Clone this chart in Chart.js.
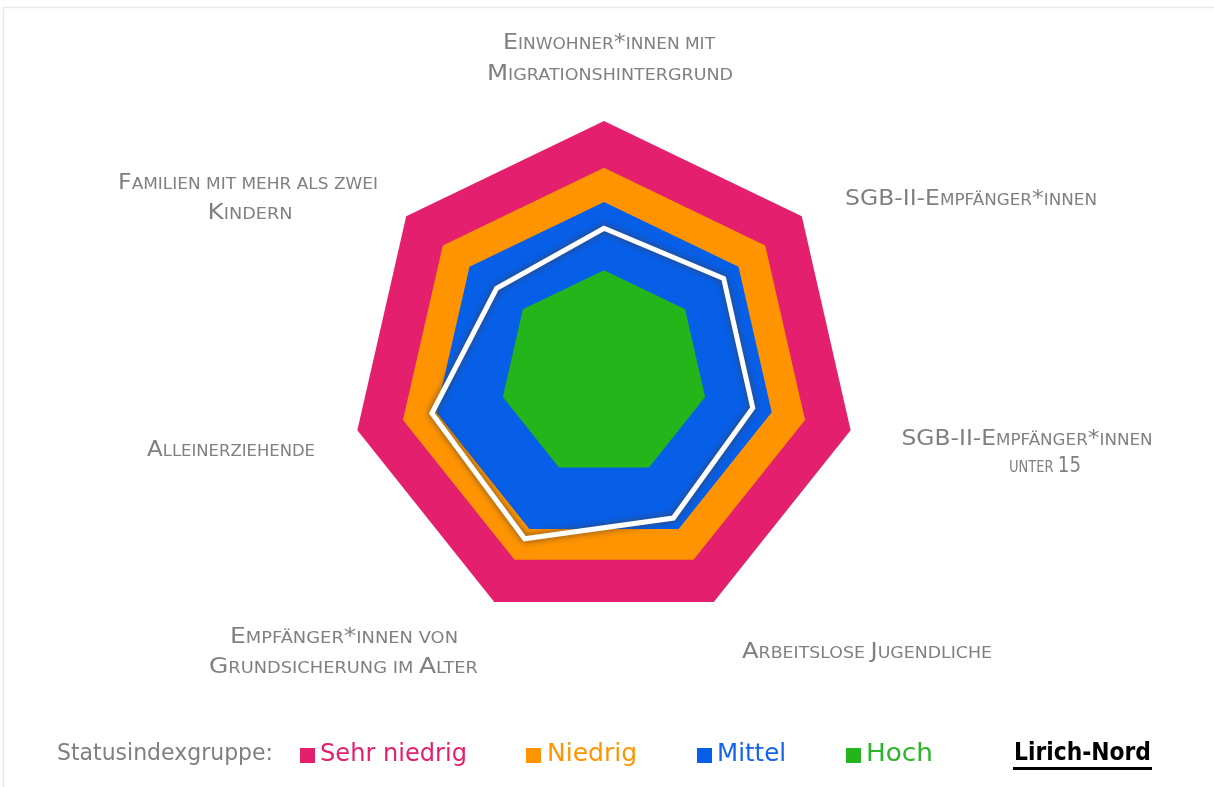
<!DOCTYPE html>
<html>
<head>
<meta charset="utf-8">
<script src="https://cdn.jsdelivr.net/npm/chart.js@4/dist/chart.umd.min.js"></script>
<style>
  html, body { margin: 0; padding: 0; background: #ffffff; }
  #wrap { width: 1214px; height: 787px; position: relative; }
</style>
</head>
<body>
<div id="wrap"><canvas id="c" width="1214" height="787"></canvas></div>
<script>
// ---- data ----
const categories = [
  ["Einwohner*innen mit", "Migrationshintergrund"],
  ["SGB-II-Empfänger*innen"],
  ["SGB-II-Empfänger*innen", "unter 15"],
  ["Arbeitslose Jugendliche"],
  ["Empfänger*innen von", "Grundsicherung im Alter"],
  ["Alleinerziehende"],
  ["Familien mit mehr als zwei", "Kindern"]
];
const seriesNames = ["Sehr niedrig", "Niedrig", "Mittel", "Hoch", "Lirich-Nord"];
const sehrNiedrig = [100, 100, 100, 100, 100, 100, 100];
const niedrig     = [81.5, 81.5, 81.5, 81.5, 81.5, 81.5, 81.5];
const mittel      = [68, 68, 68, 68, 68, 68, 68];
const hoch        = [41, 41, 41, 41, 41, 41, 41];
const lirichNord  = [57.6, 60.5, 60.3, 63.2, 72.3, 69.8, 54.3];
const legendTitle = "Statusindexgruppe:";

// ---- styles / layout ----
const colors = {
  sehrNiedrig: "#E4206E",
  niedrig: "#FF9400",
  mittel: "#075FE8",
  hoch: "#24B51B",
  line: "#FFFFFF"
};
const legendTextColors = ["#E4206E", "#FF9400", "#1463EA", "#2DB52A", "#000000"];
const FONT = "'DejaVu Sans', 'Liberation Sans', sans-serif";

// label line anchors: [centerX, baseline, width] per line
const labelLayout = [
  [[609, 49, 212], [610, 80, 246]],
  [[971, 205, 252]],
  [[1027, 445, 251], [1045, 472, 72]],
  [[867, 658, 250]],
  [[344, 643, 228], [343.5, 673, 269]],
  [[231, 456, 168]],
  [[248, 189, 260], [250, 219, 85]]
];

function smallCapsRuns(text, big, small) {
  const runs = [];
  for (const ch of text) {
    const isLower = ch !== ch.toUpperCase();
    const size = (isLower || ch === " ") ? small : big;
    const t = isLower ? ch.toUpperCase() : ch;
    if (runs.length && runs[runs.length - 1].size === size) runs[runs.length - 1].text += t;
    else runs.push({ text: t, size });
  }
  return runs;
}

function drawRunsFit(ctx, runs, cx, baseline, targetW, weight, color) {
  let total = 0;
  runs.forEach(r => {
    ctx.font = weight + " " + r.size + "px " + FONT;
    r.w = ctx.measureText(r.text).width;
    total += r.w;
  });
  const s = targetW ? Math.max(0.85, Math.min(1.2, targetW / total)) : 1;
  ctx.save();
  ctx.translate(cx, baseline);
  ctx.scale(s, 1);
  ctx.fillStyle = color;
  ctx.textBaseline = "alphabetic";
  ctx.textAlign = "left";
  let x = -total / 2;
  runs.forEach(r => {
    ctx.font = weight + " " + r.size + "px " + FONT;
    ctx.fillText(r.text, x, 0);
    x += r.w;
  });
  ctx.restore();
}

const framePlugin = {
  id: "frame",
  beforeDraw(chart) {
    const ctx = chart.ctx;
    ctx.save();
    ctx.strokeStyle = "#e9e9e9";
    ctx.lineWidth = 1.5;
    ctx.strokeRect(3.5, 7.5, 1214, 800);
    ctx.restore();
  }
};

const shadowPlugin = {
  id: "lineShadow",
  beforeDatasetDraw(chart, args) {
    if (chart.data.datasets[args.index].label === "Lirich-Nord") {
      const ctx = chart.ctx;
      ctx.save();
      ctx.shadowColor = "rgba(70,60,50,0.85)";
      ctx.shadowBlur = 7;
    }
  },
  afterDatasetDraw(chart, args) {
    if (chart.data.datasets[args.index].label === "Lirich-Nord") {
      chart.ctx.restore();
    }
  }
};

const labelPlugin = {
  id: "smallCapsLabels",
  afterDraw(chart) {
    const ctx = chart.ctx;
    const labels = chart.data.labels;
    labels.forEach((lines, i) => {
      lines.forEach((line, j) => {
        const [cx, by, w] = labelLayout[i][j];
        drawRunsFit(ctx, smallCapsRuns(line, 21, 15), cx, by, w, "normal", "#808080");
      });
    });
    // legend
    const ly = 760;
    drawRunsFit(ctx, [{ text: legendTitle, size: 23 }], 165, ly, 216, "normal", "#808080");
    const items = [
      { sq: 300, cx: 393.5, w: 147 },
      { sq: 526, cx: 592, w: 90 },
      { sq: 697, cx: 751.5, w: 69 },
      { sq: 846, cx: 899.5, w: 67 }
    ];
    const fills = [colors.sehrNiedrig, colors.niedrig, colors.mittel, colors.hoch];
    items.forEach((it, k) => {
      ctx.fillStyle = fills[k];
      ctx.fillRect(it.sq, 748, 15, 15);
      drawRunsFit(ctx, [{ text: seriesNames[k], size: 25 }], it.cx, ly + 1, it.w, "normal", legendTextColors[k]);
    });
    drawRunsFit(ctx, [{ text: seriesNames[4], size: 24 }], 1082.5, ly, 137, "bold", "#000000");
    ctx.fillStyle = "#000000";
    ctx.fillRect(1013, 767, 139, 3);
  }
};

new Chart(document.getElementById("c"), {
  type: "radar",
  data: {
    labels: categories,
    datasets: [
      { label: seriesNames[4], data: lirichNord, borderColor: colors.line, borderWidth: 5,
        backgroundColor: "rgba(0,0,0,0)", fill: false, pointRadius: 0, borderJoinStyle: "miter", order: 0 },
      { label: seriesNames[3], data: hoch, backgroundColor: colors.hoch, borderWidth: 0, fill: "origin", pointRadius: 0, order: 1 },
      { label: seriesNames[2], data: mittel, backgroundColor: colors.mittel, borderWidth: 0, fill: "origin", pointRadius: 0, order: 2 },
      { label: seriesNames[1], data: niedrig, backgroundColor: colors.niedrig, borderWidth: 0, fill: "origin", pointRadius: 0, order: 3 },
      { label: seriesNames[0], data: sehrNiedrig, backgroundColor: colors.sehrNiedrig, borderWidth: 0, fill: "origin", pointRadius: 0, order: 4 }
    ]
  },
  options: {
    responsive: false,
    devicePixelRatio: 1,
    animation: false,
    layout: { padding: { top: 121, bottom: 160, left: 351, right: 357 } },
    elements: { line: { tension: 0 } },
    plugins: { legend: { display: false }, tooltip: { enabled: false } },
    scales: {
      r: {
        min: 0, max: 100,
        ticks: { display: false },
        grid: { display: false },
        angleLines: { display: false },
        pointLabels: { display: false }
      }
    }
  },
  plugins: [framePlugin, shadowPlugin, labelPlugin]
});
</script>
</body>
</html>
